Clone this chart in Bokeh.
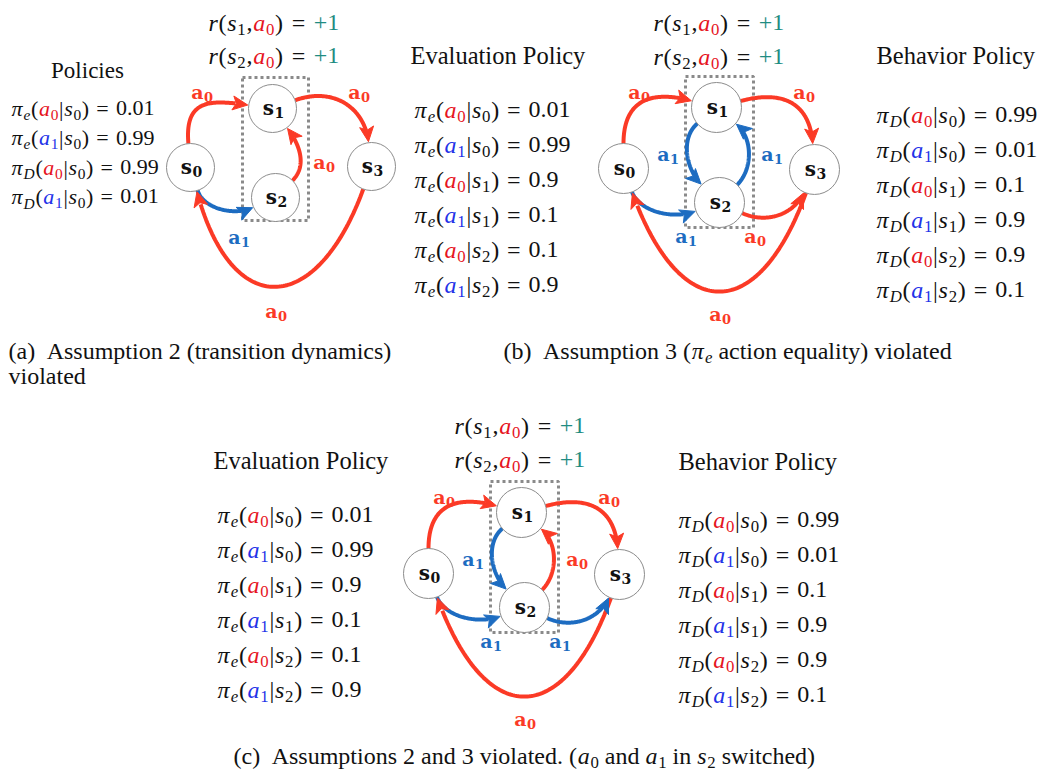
import numpy as np
from bokeh.plotting import figure
from bokeh.models import ColumnDataSource, Range1d
from bokeh.core.properties import value
from bokeh.embed import file_html
from bokeh.resources import INLINE

W, H = 1046, 769

# ---------------- MDP data ----------------
# panel (a): policies at s0 only
pol_a_names = ["e", "e", "D", "D"]
pol_a_actions = [0, 1, 0, 1]
pol_a_states = [0, 0, 0, 0]
pol_a_probs = [0.01, 0.99, 0.99, 0.01]

# panels (b) and (c): full evaluation / behaviour policies
pol_actions = [0, 1, 0, 1, 0, 1]
pol_states = [0, 0, 1, 1, 2, 2]
eval_probs = [0.01, 0.99, 0.9, 0.1, 0.1, 0.9]
behav_probs = [0.99, 0.01, 0.1, 0.9, 0.9, 0.1]

reward_states = [1, 2]
reward_actions = [0, 0]
reward_values = ["+1", "+1"]

# transitions as (state, action, next state)
trans_a = [(0, 0, 1), (0, 1, 2), (1, 0, 3), (2, 0, 1), (3, 0, 0)]
trans_b = [(0, 0, 1), (0, 1, 2), (1, 0, 3), (1, 1, 2), (2, 0, 3), (2, 1, 1), (3, 0, 0)]
trans_c = [(0, 0, 1), (0, 1, 2), (1, 0, 3), (1, 1, 2), (2, 0, 1), (2, 1, 3), (3, 0, 0)]

# ---------------- graph layout (relative to s0) ----------------
# edge: (angle leaving source, angle at target, handle 1, handle 2, label offset)
GEOM_A = dict(
    radius=24,
    nodes=[(0, 0), (82, -59), (85, 30), (181, -1)],
    box=(52, -90, 118, 53),
    edges={
        (0, 1): (-95, 188, 45, 38, (11, -74)),
        (1, 3): (-20, -97, 40, 35, (168, -74)),
        (2, 1): (-45, 53, 20, 22, (133, -4)),
        (0, 2): (73, 156, 18, 22, (48, 71)),
        (3, 0): (110, 75, 135, 135, (85, 145)),
    },
)
GEOM_BC = dict(
    radius=25,
    nodes=[(0, 0), (93, -61), (96, 34), (191, 1)],
    box=(62, -92, 130, 59),
    edges={
        (0, 1): (-90, 195, 45, 40, (15, -75)),
        (1, 3): (-15, -94, 50, 35, (180, -75)),
        (1, 2): (140, 225, 22, 22, (44, -13)),
        (2, 1): (-45, 40, 22, 22, (148, -13)),
        (0, 2): (70, 160, 20, 25, (62, 69)),
        (2, 3): (25, 115, 25, 25, (131, 69)),
        (3, 0): (110, 70, 140, 140, (96, 147)),
    },
)
HEAD_L, HEAD_W = 15, 7

EDGE_COL = {0: "#fb3a26", 1: "#1d6cc1"}
MATH_COL = {0: "#e6141e", 1: "#2332e8"}
TEAL = "#1f8c82"
INK = "#111111"

# the text glyph places y at the middle of the line box; shift to the baseline
MID = 0.33

# Times-compatible advance widths (em)
ROMAN = {' ': .25, '(': .333, ')': .333, '+': .564, ',': .25, '.': .25, '=': .564, '|': .2,
         'A': .722, 'B': .667, 'E': .611, 'P': .556,
         'a': .444, 'b': .5, 'c': .444, 'd': .5, 'e': .444, 'h': .5, 'i': .278, 'l': .278,
         'm': .778, 'n': .5, 'o': .5, 'p': .5, 'q': .5, 'r': .333, 's': .389, 't': .278,
         'u': .5, 'v': .5, 'w': .722, 'y': .5}
ITALIC = {'a': .5, 'e': .444, 'r': .389, 's': .389, 'D': .722, 'π': .52}


def text_width(s, style):
    table = ITALIC if style == "italic" else ROMAN
    return sum(table.get(ch, 0.5) for ch in s)


txt = dict(x=[], y=[], text=[], style=[], size=[], color=[])


def put_rich(x0, base, F, segs, kern=0.03):
    x = x0
    for seg in segs:
        if seg[0] == "gap":
            x += seg[1] * F
            continue
        s, style, color, sub = seg
        size = F * 0.7 if sub else F
        txt["x"].append(x)
        txt["y"].append(base + (0.2 * F if sub else 0) - MID * size)
        txt["text"].append(s)
        txt["style"].append(style)
        txt["size"].append(f"{size:.1f}px")
        txt["color"].append(color)
        x += text_width(s, style) * size + kern * F
    return x


def policy_row(pol, a, s, prob):
    return [("π", "italic", INK, False), (pol, "italic", INK, True),
            ("(", "normal", INK, False),
            ("a", "italic", MATH_COL[a], False), (str(a), "normal", MATH_COL[a], True),
            ("|", "normal", INK, False),
            ("s", "italic", INK, False), (str(s), "normal", INK, True),
            (")", "normal", INK, False), ("gap", 0.3),
            ("=", "normal", INK, False), ("gap", 0.3),
            (str(prob), "normal", INK, False)]


def reward_row(s, a, v):
    return [("r", "italic", INK, False), ("(", "normal", INK, False),
            ("s", "italic", INK, False), (str(s), "normal", INK, True),
            (",", "normal", INK, False),
            ("a", "italic", MATH_COL[a], False), (str(a), "normal", MATH_COL[a], True),
            (")", "normal", INK, False), ("gap", 0.33),
            ("=", "normal", INK, False), ("gap", 0.33),
            (v, "normal", TEAL, False)]


def plain(s):
    return [(s, "normal", INK, False)]


# graph primitives
lines = dict(xs=[], ys=[], color=[])
heads = dict(xs=[], ys=[], color=[])
circ = dict(x=[], y=[], r=[])
boxes = dict(left=[], right=[], top=[], bottom=[])
node_lab = dict(x=[], y=[], text=[])
node_sub = dict(x=[], y=[], text=[])
edge_lab = dict(x=[], y=[], text=[], color=[])
edge_sub = dict(x=[], y=[], text=[], color=[])

NODE_F, NODE_SUB_F = 20, 14
EDGE_F, EDGE_SUB_F = 19, 13


def unit(deg):
    r = np.radians(deg)
    return np.array([np.cos(r), np.sin(r)])


def bezier(p0, p1, p2, p3, n=90):
    t = np.linspace(0, 1, n)[:, None]
    return (1 - t) ** 3 * p0 + 3 * (1 - t) ** 2 * t * p1 + 3 * (1 - t) * t ** 2 * p2 + t ** 3 * p3


def draw_graph(origin, geom, transitions):
    ox, oy = origin
    R = geom["radius"]
    centers = [np.array([ox + dx, oy + dy], dtype=float) for dx, dy in geom["nodes"]]
    l, t, r, b = geom["box"]
    boxes["left"].append(ox + l); boxes["right"].append(ox + r)
    boxes["top"].append(oy + t); boxes["bottom"].append(oy + b)
    for s, a, nxt in transitions:
        ts, td, h1, h2, (lx, ly) = geom["edges"][(s, nxt)]
        p0 = centers[s] + R * unit(ts)
        p1 = p0 + h1 * unit(ts)
        p3 = centers[nxt] + (R + 1) * unit(td)
        p2 = p3 + h2 * unit(td)
        pts = bezier(p0, p1, p2, p3)
        keep = np.linalg.norm(pts - p3, axis=1) > HEAD_L * 0.75
        col = EDGE_COL[a]
        lines["xs"].append(list(pts[keep, 0])); lines["ys"].append(list(pts[keep, 1]))
        lines["color"].append(col)
        d = -unit(td)
        perp = np.array([-d[1], d[0]])
        base = p3 - HEAD_L * d
        notch = p3 - (HEAD_L - 3.5) * d
        poly = [p3, base + HEAD_W * perp, notch, base - HEAD_W * perp]
        heads["xs"].append([q[0] for q in poly]); heads["ys"].append([q[1] for q in poly])
        heads["color"].append(col)
        # edge label "a_k"
        cx, cy = ox + lx, oy + ly
        edge_lab["x"].append(cx + 2); edge_lab["y"].append(cy + 4.5 - MID * EDGE_F)
        edge_lab["text"].append("a"); edge_lab["color"].append(col)
        edge_sub["x"].append(cx + 2.5); edge_sub["y"].append(cy + 8 - MID * EDGE_SUB_F)
        edge_sub["text"].append(str(a)); edge_sub["color"].append(col)
    for i, c in enumerate(centers):
        circ["x"].append(c[0]); circ["y"].append(c[1]); circ["r"].append(R)
        node_lab["x"].append(c[0] + 1.5); node_lab["y"].append(c[1] + 6 - MID * NODE_F)
        node_lab["text"].append("s")
        node_sub["x"].append(c[0] + 2); node_sub["y"].append(c[1] + 9 - MID * NODE_SUB_F)
        node_sub["text"].append(str(i))


ORIGIN_A = (190, 167)
ORIGIN_B = (623, 168)
ORIGIN_C = (428, 573)

draw_graph(ORIGIN_A, GEOM_A, trans_a)
draw_graph(ORIGIN_B, GEOM_BC, trans_b)
draw_graph(ORIGIN_C, GEOM_BC, trans_c)

# ---------------- text blocks ----------------
# (a)
for i, (s, a, v) in enumerate(zip(reward_states, reward_actions, reward_values)):
    put_rich(208, 30 + 33 * i, 24, reward_row(s, a, v))
put_rich(87 - text_width("Policies", "normal") * 23 / 2, 78, 23, plain("Policies"))
for i, (pn, a, s, pr) in enumerate(zip(pol_a_names, pol_a_actions, pol_a_states, pol_a_probs)):
    put_rich(11, 115 + 29.4 * i, 22, policy_row(pn, a, s, pr))

# (b) and (c)
for (rx, ry, ex, ey, bx, by, row_e, row_b) in [
        (653, 30, 410, 63, 876, 63, 117, 122),
        (454, 433, 213, 468, 678, 469, 522, 527)]:
    for i, (s, a, v) in enumerate(zip(reward_states, reward_actions, reward_values)):
        put_rich(rx, ry + 34 * i, 24, reward_row(s, a, v))
    put_rich(ex, ey, 24.5, plain("Evaluation Policy"))
    put_rich(bx, by, 24.5, plain("Behavior Policy"))
    for i, (a, s, pr) in enumerate(zip(pol_actions, pol_states, eval_probs)):
        put_rich(ex + 4, row_e + 35 * i, 24, policy_row("e", a, s, pr))
    for i, (a, s, pr) in enumerate(zip(pol_actions, pol_states, behav_probs)):
        put_rich(bx, row_b + 35 * i, 24, policy_row("D", a, s, pr))

# captions
put_rich(8, 358, 24, [("(a)", "normal", INK, False), ("gap", 0.45),
                      ("Assumption 2 (transition dynamics)", "normal", INK, False)])
put_rich(8, 383, 24, plain("violated"))
put_rich(503, 358, 24, [("(b)", "normal", INK, False), ("gap", 0.45),
                        ("Assumption 3 (", "normal", INK, False),
                        ("π", "italic", INK, False), ("e", "italic", INK, True), ("gap", 0.22),
                        ("action equality) violated", "normal", INK, False)])
put_rich(233, 763, 24, [("(c)", "normal", INK, False), ("gap", 0.45),
                        ("Assumptions 2 and 3 violated. (", "normal", INK, False),
                        ("a", "italic", INK, False), ("0", "normal", INK, True), ("gap", 0.22),
                        ("and", "normal", INK, False), ("gap", 0.22),
                        ("a", "italic", INK, False), ("1", "normal", INK, True), ("gap", 0.22),
                        ("in", "normal", INK, False), ("gap", 0.22),
                        ("s", "italic", INK, False), ("2", "normal", INK, True), ("gap", 0.22),
                        ("switched)", "normal", INK, False)])

# ---------------- figure ----------------
p = figure(width=W, height=H, x_range=Range1d(0, W), y_range=Range1d(H, 0),
           output_backend="svg", toolbar_location=None, min_border=0,
           x_axis_location=None, y_axis_location=None)
p.grid.visible = False
p.outline_line_color = None
p.background_fill_color = "white"
p.border_fill_color = "white"

p.quad(left="left", right="right", top="top", bottom="bottom", source=ColumnDataSource(boxes),
       fill_color=None, line_color="#8a8a8a", line_width=3, line_dash="3 3")
p.multi_line(xs="xs", ys="ys", line_color="color", line_width=4, source=ColumnDataSource(lines))
p.patches(xs="xs", ys="ys", fill_color="color", line_color="color", line_width=1,
          source=ColumnDataSource(heads))
p.circle(x="x", y="y", radius="r", fill_color="white", line_color="#8c8c8c", line_width=1,
         source=ColumnDataSource(circ))

p.text(x="x", y="y", text="text", source=ColumnDataSource(node_lab),
       text_font=value("DejaVu Serif"), text_font_style="bold", text_font_size=f"{NODE_F}px",
       text_color=INK, text_align="right", text_baseline="alphabetic")
p.text(x="x", y="y", text="text", source=ColumnDataSource(node_sub),
       text_font=value("DejaVu Serif"), text_font_style="bold", text_font_size=f"{NODE_SUB_F}px",
       text_color=INK, text_align="left", text_baseline="alphabetic")
p.text(x="x", y="y", text="text", source=ColumnDataSource(edge_lab),
       text_font=value("DejaVu Serif"), text_font_style="bold", text_font_size=f"{EDGE_F}px",
       text_color="color", text_align="right", text_baseline="alphabetic")
p.text(x="x", y="y", text="text", source=ColumnDataSource(edge_sub),
       text_font=value("DejaVu Serif"), text_font_style="bold", text_font_size=f"{EDGE_SUB_F}px",
       text_color="color", text_align="left", text_baseline="alphabetic")

p.text(x="x", y="y", text="text", source=ColumnDataSource(txt),
       text_font=value("Liberation Serif"), text_font_style="style", text_font_size="size",
       text_color="color", text_align="left", text_baseline="alphabetic")

open("out.html", "w").write(file_html(p, INLINE))
